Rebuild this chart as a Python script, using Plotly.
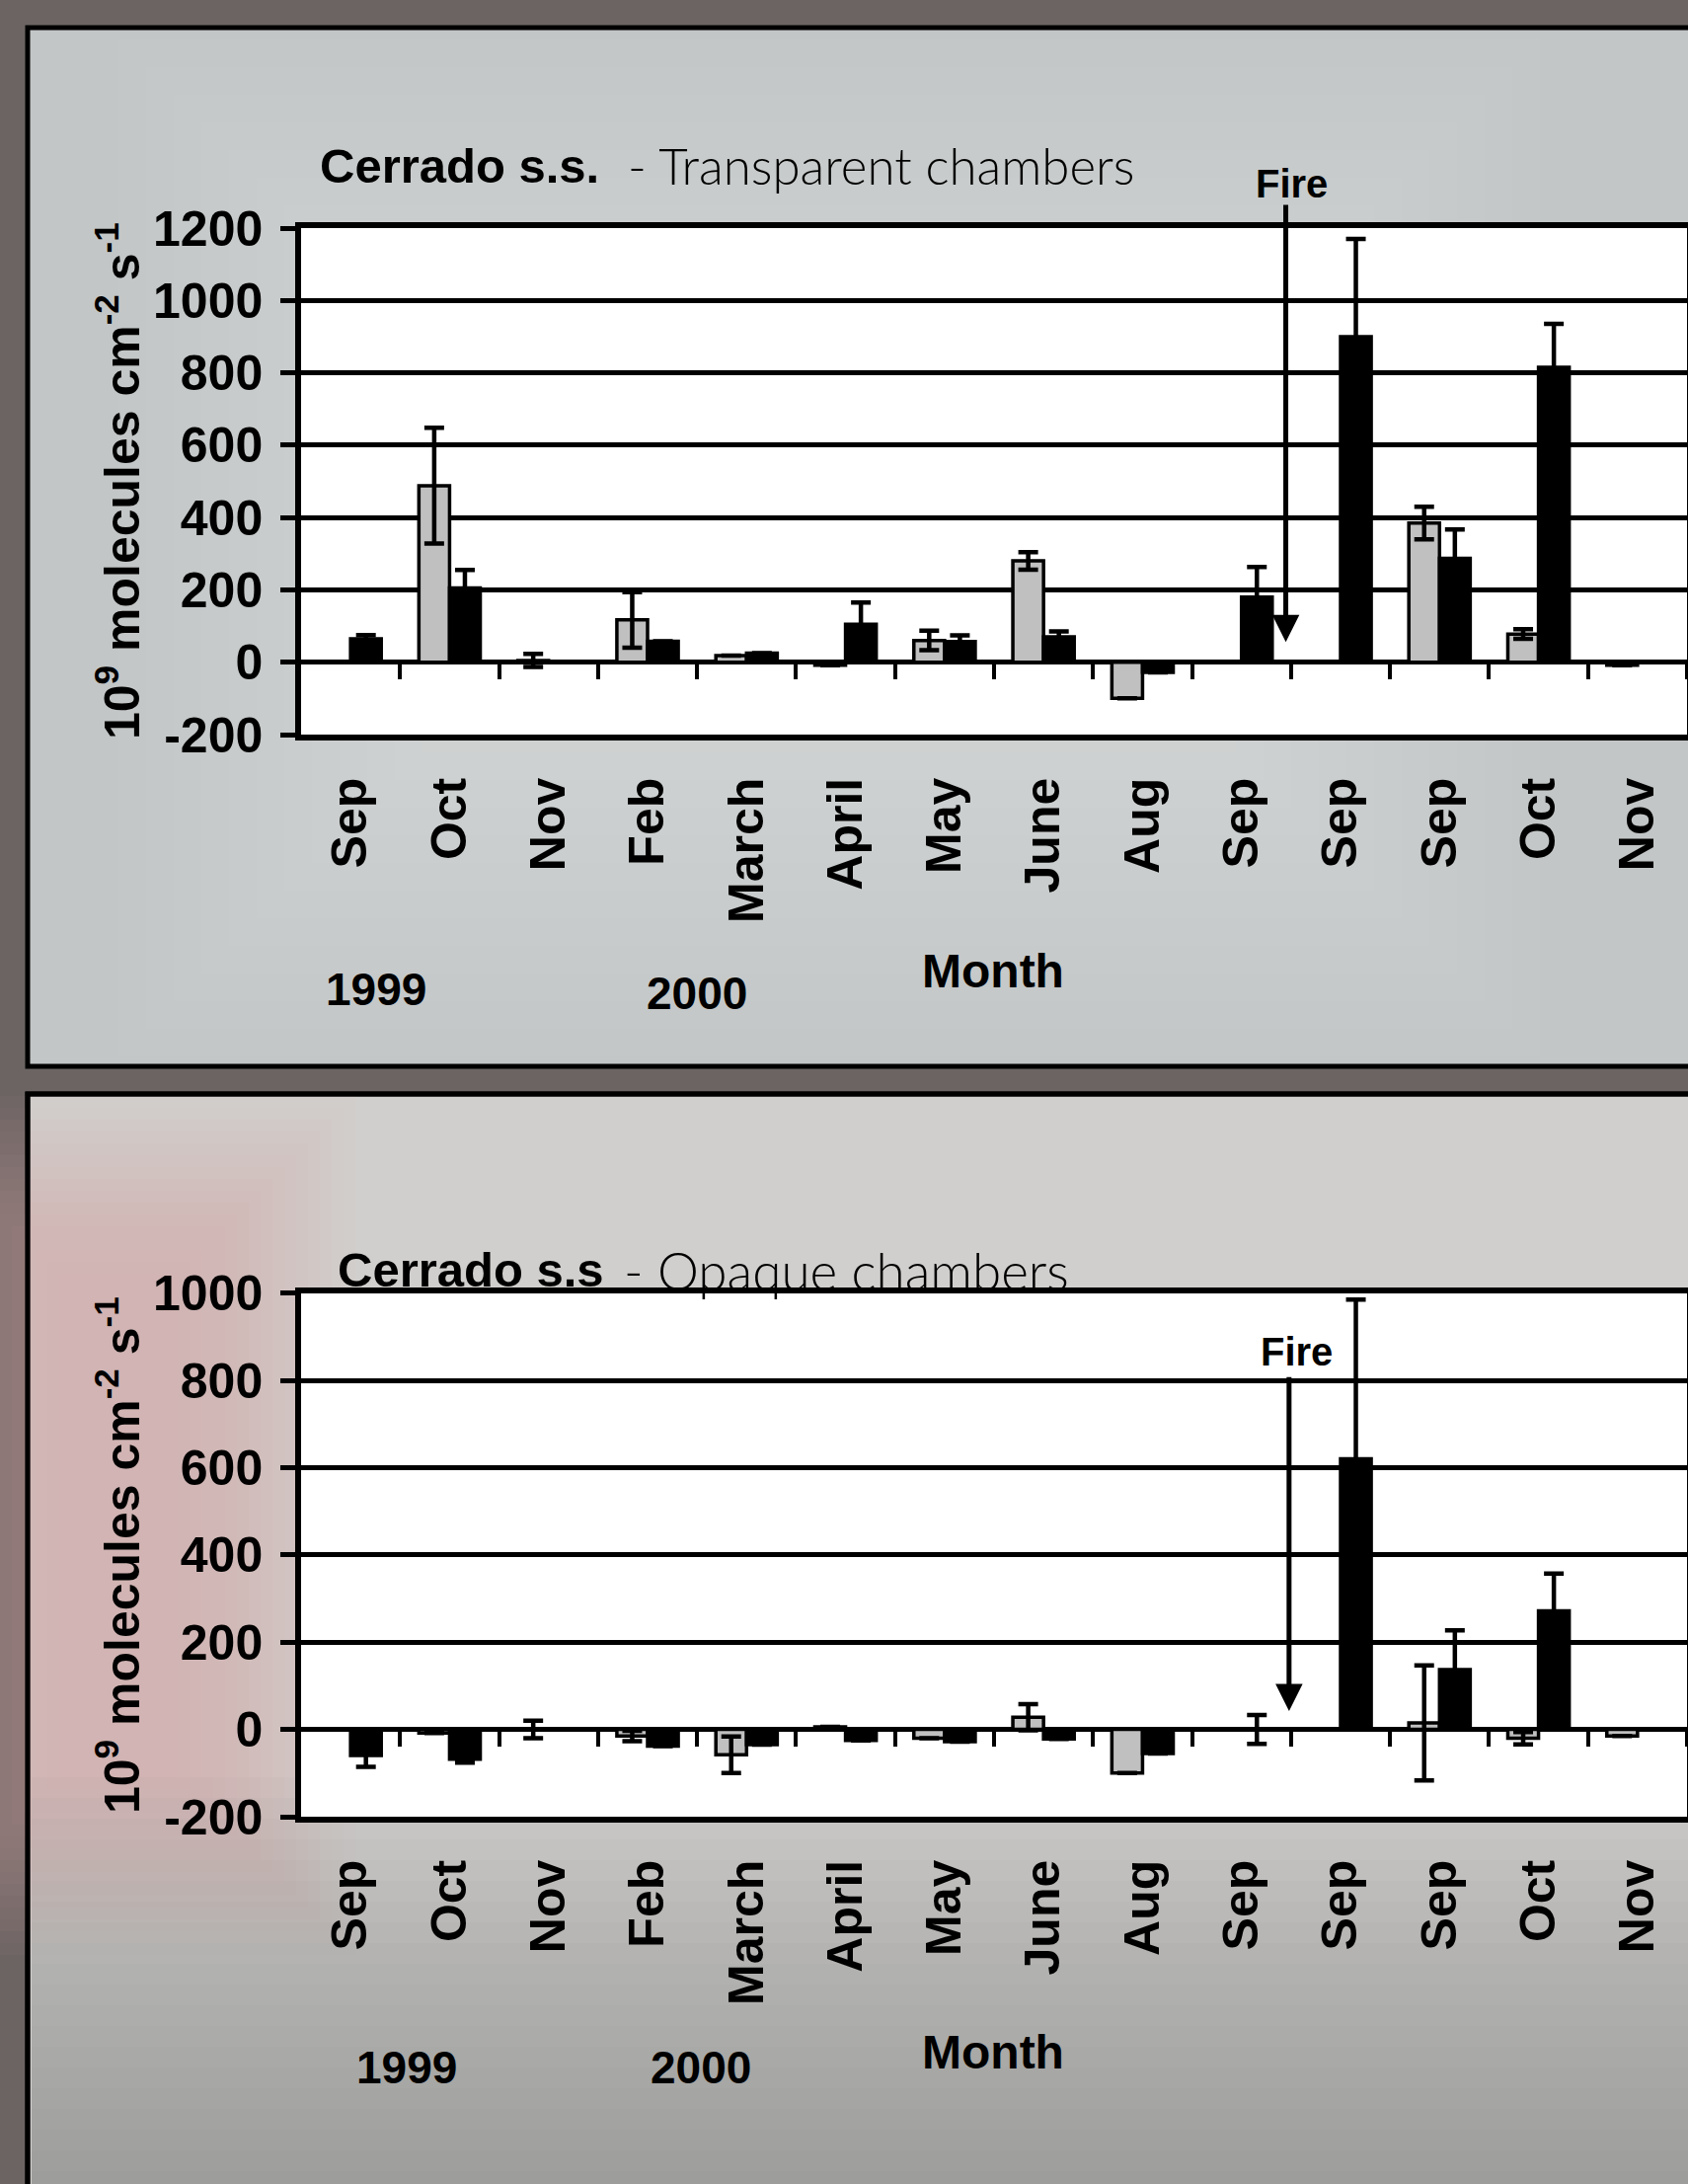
import plotly.graph_objects as go

W, H = 1710, 2212

# Sampling months (two years of campaigns, the fire happened between the 10th and 11th slot)
months = ["Sep", "Oct", "Nov", "Feb", "March", "April", "May", "June",
          "Aug", "Sep", "Sep", "Sep", "Oct", "Nov"]
slots = list(range(len(months)))

# Transparent chambers (10^9 molecules cm-2 s-1)
trans_gray = [None, 488, 5, 117, 18, -8, 60, 280, -100, None, None, 385, 78, -8]
trans_gray_err = [None, 160, 18, 77, None, None, 27, 24, None, None, None, 45, 13, None]
trans_black = [65, 205, None, 58, 25, 105, 57, 70, -28, 180, 900, 287, 815, None]
trans_black_err = [10, 50, None, None, None, 60, 17, 15, None, 83, 270, 80, 120, None]

# Opaque chambers
opaque_gray = [None, -8, 0, -15, -58, 6, -20, 28, -100, None, None, 15, -20, -15]
opaque_gray_err = [None, None, 20, 12, 42, None, None, 30, None, None, None, 132, 14, None]
opaque_black = [-60, -68, None, -38, -35, -25, -28, -22, -55, 0, 620, 137, 272, None]
opaque_black_err = [26, 8, None, None, None, None, None, None, None, 33, 365, 90, 85, None]

y_ticks_top = [-200, 0, 200, 400, 600, 800, 1000, 1200]
y_ticks_bot = [-200, 0, 200, 400, 600, 800, 1000]

BOLD = "Liberation Sans, Arial, Helvetica, sans-serif"
LIGHT = "Lato, Liberation Sans, Arial, sans-serif"


def fx(px):
    return px / W


def fy(py):
    return 1 - py / H


X_DOM = [fx(305), fx(1709)]
TOP_RNG, TOP_DOM = [-200, 1200], [fy(744), fy(231)]
BOT_RNG, BOT_DOM = [-200, 1000], [fy(1840), fy(1309.6)]


def zero_pos(rng, dom):
    return dom[0] + (0 - rng[0]) / (rng[1] - rng[0]) * (dom[1] - dom[0])


fig = go.Figure()


def add_pair(gray, gray_err, black, black_err, xa, ya):
    for vals, errs, fill in ((gray, gray_err, "#c0c0c0"), (black, black_err, "#000000")):
        fig.add_trace(go.Bar(
            x=slots, y=vals, xaxis=xa, yaxis=ya,
            marker=dict(color=fill, line=dict(color="black", width=3.5)),
            error_y=dict(type="data", array=errs, visible=True, color="black",
                         thickness=4.5, width=10),
            showlegend=False, hoverinfo="skip"))


add_pair(trans_gray, trans_gray_err, trans_black, trans_black_err, "x", "y")
add_pair(opaque_gray, opaque_gray_err, opaque_black, opaque_black_err, "x2", "y2")

# invisible points so the label axes get their own subplots
for xa, ya in (("x3", "y"), ("x4", "y2")):
    fig.add_trace(go.Scatter(x=[0], y=[0], xaxis=xa, yaxis=ya, mode="markers",
                             marker=dict(opacity=0), showlegend=False, hoverinfo="skip"))

boundaries = [i + 0.5 for i in slots]


def tick_axis(rng, dom):
    # category boundary ticks hanging from the zero line
    return dict(domain=X_DOM, range=[-0.5, 13.5], anchor="free", position=zero_pos(rng, dom),
                side="bottom", tickmode="array", tickvals=boundaries, ticks="outside",
                ticklen=16, tickwidth=4, tickcolor="black", showticklabels=False,
                showgrid=False, zeroline=False, showline=False, fixedrange=True)


def label_axis(over, yanchor):
    return dict(overlaying=over, anchor=yanchor, domain=X_DOM, range=[-0.5, 13.5],
                tickmode="array", tickvals=slots, ticktext=months, tickangle=-90,
                ticks="", showline=True, mirror=True, linewidth=5.5, linecolor="black",
                showgrid=False, zeroline=False, ticklabelstandoff=18,
                tickfont=dict(family=BOLD, size=50, color="black", weight="bold"),
                fixedrange=True)


def value_axis(rng, dom, xanchor, tickvals):
    return dict(domain=dom, range=rng, anchor=xanchor, tickmode="array", tickvals=tickvals,
                ticktext=[str(v) for v in tickvals],
                showgrid=True, gridcolor="black", gridwidth=4.5, zeroline=False,
                showline=True, mirror=True, linewidth=5.5, linecolor="black",
                ticks="outside", ticklen=15, tickwidth=4.5, tickcolor="black",
                ticklabelstandoff=8,
                tickfont=dict(family=BOLD, size=50, color="black", weight="bold"),
                fixedrange=True)


shapes = []


def band(x0, x1, y0, y1, color, opacity=1.0, border=0):
    shapes.append(dict(type="rect", xref="paper", yref="paper",
                       x0=fx(x0), x1=fx(x1), y0=fy(y1), y1=fy(y0),
                       fillcolor=color, opacity=opacity, layer="below",
                       line=dict(color="black", width=border)))


def soft(x0, x1, y0, y1, color, total, steps, inset):
    # nested translucent rectangles give a soft-edged patch
    for k in range(steps):
        band(x0 + k * inset, x1 - k * inset, y0 + k * inset, y1 - k * inset,
             color, opacity=total / steps)


# panel backgrounds
band(28, 1780, 28, 1080, "#c3c6c6", border=5)
soft(120, 1560, 40, 1070, "#dcdedd", 0.75, 12, 28)
band(28, 1780, 1108, 2300, "#d1cfcd", border=5)
soft(-120, 360, 1110, 1980, "#c6a7a5", 0.7, 16, 12)
for k in range(20):
    band(32, 1710, 1800 + k * 21, 2212, "#8c897c", opacity=0.04)
band(28, 1780, 1108, 2300, "rgba(0,0,0,0)", border=5)
# white plotting areas
for xr, yr in (("x domain", "y domain"), ("x2 domain", "y2 domain")):
    shapes.append(dict(type="rect", xref=xr, yref=yr, x0=0, x1=1, y0=0, y1=1,
                       fillcolor="white", line=dict(width=0), layer="below"))

annotations = []


def text(px, py, s, size, family=BOLD, weight="bold", xanchor="center", angle=0):
    annotations.append(dict(x=fx(px), y=fy(py), xref="paper", yref="paper", text=s,
                            showarrow=False, xanchor=xanchor, yanchor="middle",
                            textangle=angle,
                            font=dict(family=family, size=size, color="black", weight=weight)))


y_title = "10<sup>9</sup> molecules cm<sup>-2</sup> s<sup>-1</sup>"

# upper chart texts
text(322, 168, "Cerrado s.s.", 49, xanchor="left")
text(634, 168, "- Transparent chambers", 51, family=LIGHT, weight=300, xanchor="left")
text(1308, 186, "Fire", 40)
text(1006, 984, "Month", 48)
text(381, 1002, "1999", 46)
text(706, 1006, "2000", 46)
text(120, 487, y_title, 50, angle=-90)

# lower chart texts
text(340, 1286, "Cerrado s.s", 49, xanchor="left")
text(630, 1286, "- Opaque chambers", 53, family=LIGHT, weight=300, xanchor="left")
text(1313, 1369, "Fire", 40)
text(1006, 2078, "Month", 48)
text(412, 2094, "1999", 46)
text(710, 2094, "2000", 46)
text(120, 1575, y_title, 50, angle=-90)

# fire arrows
annotations.append(dict(x=9.447, y=56, xref="x", yref="y", ax=9.447, ay=1268,
                        axref="x", ayref="y", text="", showarrow=True, arrowhead=2,
                        arrowsize=1.1, arrowwidth=5, arrowcolor="black"))
annotations.append(dict(x=9.48, y=42, xref="x2", yref="y2", ax=9.48, ay=811,
                        axref="x2", ayref="y2", text="", showarrow=True, arrowhead=2,
                        arrowsize=1.1, arrowwidth=5, arrowcolor="black"))

fig.update_layout(
    width=W, height=H, autosize=False,
    margin=dict(l=0, r=0, t=0, b=0, pad=0, autoexpand=False),
    paper_bgcolor="#6b6463", plot_bgcolor="white",
    barmode="group", bargap=0.38, bargroupgap=0,
    showlegend=False,
    xaxis=tick_axis(TOP_RNG, TOP_DOM),
    xaxis2=tick_axis(BOT_RNG, BOT_DOM),
    xaxis3=label_axis("x", "y"),
    xaxis4=label_axis("x2", "y2"),
    yaxis=value_axis(TOP_RNG, TOP_DOM, "x", y_ticks_top),
    yaxis2=value_axis(BOT_RNG, BOT_DOM, "x2", y_ticks_bot),
    shapes=shapes,
    annotations=annotations,
)

fig.write_html("out.html")
